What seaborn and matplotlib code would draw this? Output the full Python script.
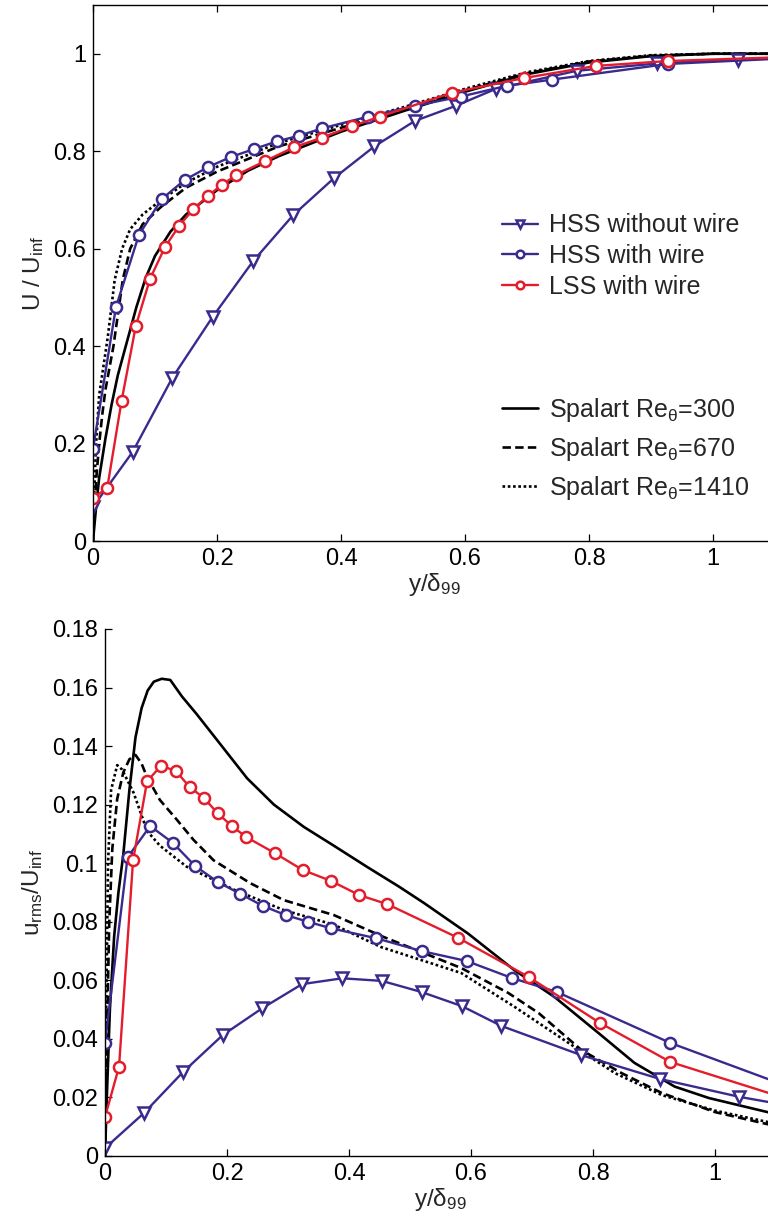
import numpy as np
import pandas as pd
import matplotlib
matplotlib.use("Agg")
import matplotlib.pyplot as plt
from matplotlib.ticker import FuncFormatter, MultipleLocator
import seaborn as sns

# ---------------- data ----------------
# HSS without wire (triangles)
x_hss_nw = [0, 0.064, 0.128, 0.193, 0.258, 0.323, 0.389, 0.454, 0.519, 0.585, 0.650, 0.780, 0.910, 1.040, 1.170]
U_hss_nw = [0.07, 0.183, 0.335, 0.46, 0.574, 0.669, 0.745, 0.81, 0.862, 0.893, 0.928, 0.965, 0.98, 0.988, 0.995]
rms_hss_nw = [0.0027, 0.0147, 0.0287, 0.0413, 0.0505, 0.0587, 0.0607, 0.0598, 0.056, 0.0512, 0.0444, 0.0345, 0.0263, 0.0202, 0.0154]

# HSS with wire (purple circles)
x_hss_w = [0, 0.037, 0.074, 0.111, 0.148, 0.185, 0.222, 0.259, 0.296, 0.333, 0.370, 0.444, 0.519, 0.593, 0.667, 0.741, 0.927, 1.11]
U_hss_w = [0.189, 0.48, 0.628, 0.702, 0.741, 0.767, 0.788, 0.804, 0.82, 0.832, 0.847, 0.871, 0.893, 0.912, 0.934, 0.947, 0.979, 0.99]
rms_hss_w = [0.0386, 0.102, 0.1127, 0.107, 0.099, 0.0936, 0.0895, 0.0854, 0.0823, 0.08, 0.0778, 0.0744, 0.070, 0.0666, 0.0608, 0.056, 0.0386, 0.0245]

# LSS with wire (red circles)
x_lss_w = [0, 0.023, 0.046, 0.069, 0.092, 0.116, 0.139, 0.162, 0.185, 0.208, 0.231, 0.278, 0.324, 0.370, 0.417, 0.463, 0.579, 0.695, 0.811, 0.927, 1.16]
U_lss_w = [0.088, 0.109, 0.287, 0.441, 0.538, 0.603, 0.647, 0.681, 0.708, 0.731, 0.751, 0.78, 0.808, 0.828, 0.851, 0.871, 0.92, 0.95, 0.975, 0.985, 0.995]
rms_lss_w = [0.0133, 0.0305, 0.101, 0.128, 0.1333, 0.1315, 0.126, 0.1223, 0.117, 0.1127, 0.109, 0.1035, 0.0977, 0.094, 0.0891, 0.086, 0.0745, 0.0611, 0.0455, 0.0321, 0.0168]

# Spalart DNS mean velocity
sU300_x = [0, 0.005, 0.01, 0.02, 0.03, 0.04, 0.055, 0.07, 0.085, 0.1, 0.125, 0.15, 0.2, 0.25, 0.3, 0.35, 0.4, 0.5, 0.6, 0.7, 0.8, 0.9, 1.0, 1.1]
sU300_y = [0, 0.07, 0.13, 0.21, 0.28, 0.34, 0.41, 0.48, 0.54, 0.585, 0.635, 0.67, 0.72, 0.76, 0.79, 0.815, 0.84, 0.882, 0.922, 0.958, 0.982, 0.995, 1.0, 1.0]
sU670_x = [0, 0.003, 0.006, 0.01, 0.015, 0.02, 0.033, 0.048, 0.06, 0.08, 0.11, 0.15, 0.2, 0.3, 0.4, 0.5, 0.6, 0.7, 0.8, 0.9, 1.0, 1.1]
sU670_y = [0, 0.08, 0.14, 0.2, 0.26, 0.31, 0.4, 0.536, 0.6, 0.65, 0.686, 0.725, 0.758, 0.81, 0.848, 0.885, 0.925, 0.96, 0.984, 0.996, 1.0, 1.0]
sU1410_x = [0, 0.002, 0.005, 0.01, 0.017, 0.024, 0.035, 0.047, 0.06, 0.08, 0.11, 0.15, 0.2, 0.3, 0.4, 0.5, 0.6, 0.7, 0.8, 0.9, 1.0, 1.1]
sU1410_y = [0, 0.1, 0.2, 0.3, 0.36, 0.42, 0.536, 0.6, 0.64, 0.67, 0.7, 0.735, 0.768, 0.817, 0.854, 0.89, 0.928, 0.962, 0.985, 0.997, 1.0, 1.0]

# Spalart DNS rms
sR300_x = [0, 0.003, 0.008, 0.015, 0.022, 0.03, 0.04, 0.05, 0.06, 0.07, 0.08, 0.093, 0.107, 0.126, 0.15, 0.184, 0.233, 0.277, 0.326, 0.375, 0.43, 0.482, 0.523, 0.595, 0.671, 0.737, 0.809, 0.868, 0.934, 0.99, 1.1]
sR300_y = [0, 0.02, 0.05, 0.075, 0.09, 0.103, 0.125, 0.143, 0.153, 0.159, 0.162, 0.163, 0.1626, 0.157, 0.151, 0.142, 0.129, 0.12, 0.1124, 0.106, 0.0987, 0.092, 0.0864, 0.076, 0.0635, 0.0543, 0.042, 0.0318, 0.0237, 0.0198, 0.0143]
sR670_x = [0, 0.003, 0.007, 0.012, 0.02, 0.03, 0.04, 0.05, 0.06, 0.069, 0.09, 0.118, 0.145, 0.178, 0.238, 0.293, 0.375, 0.457, 0.584, 0.661, 0.711, 0.781, 0.847, 0.913, 1.0, 1.1]
sR670_y = [0, 0.04, 0.08, 0.105, 0.122, 0.131, 0.1355, 0.137, 0.134, 0.1294, 0.1216, 0.1148, 0.108, 0.101, 0.0932, 0.0874, 0.0823, 0.0748, 0.0642, 0.0557, 0.0488, 0.0362, 0.0283, 0.0215, 0.015, 0.0102]
sR1410_x = [0, 0.002, 0.005, 0.01, 0.02, 0.028, 0.047, 0.069, 0.09, 0.134, 0.211, 0.293, 0.375, 0.452, 0.584, 0.671, 0.76, 0.836, 0.913, 1.0, 1.1]
sR1410_y = [0, 0.05, 0.1, 0.125, 0.1335, 0.132, 0.124, 0.111, 0.106, 0.0988, 0.091, 0.084, 0.079, 0.0714, 0.0625, 0.051, 0.0386, 0.0283, 0.0208, 0.0155, 0.011]

labels_exp = ["HSS without wire", "HSS with wire", "LSS with wire"]
labels_dns = [r"Spalart Re$_{\mathregular{θ}}$=300", r"Spalart Re$_{\mathregular{θ}}$=670", r"Spalart Re$_{\mathregular{θ}}$=1410"]

# ---------------- style ----------------
sns.set_style("ticks")
plt.rcParams["font.family"] = ["Liberation Sans", "DejaVu Sans"]
plt.rcParams["mathtext.fontset"] = "custom"
plt.rcParams["mathtext.rm"] = "Liberation Sans"
plt.rcParams["mathtext.it"] = "Liberation Sans"
plt.rcParams["xtick.direction"] = "in"
plt.rcParams["ytick.direction"] = "in"
plt.rcParams["axes.edgecolor"] = "black"
plt.rcParams["axes.linewidth"] = 1.0

PURPLE = "#3b2a8e"
RED = "#e31d2c"
TICK_FS = 17
LAB_FS = 17.5
LEG_FS = 18

fig = plt.figure(figsize=(7.68, 12.22), dpi=100)
ax1 = fig.add_axes([93 / 768, 681 / 1222, 682 / 768, 536 / 1222])
ax2 = fig.add_axes([105 / 768, 66 / 1222, 671 / 768, 527 / 1222])

fmt = FuncFormatter(lambda v, p: ("%g" % round(v, 6)))


def line(ax, x, y, **kw):
    df = pd.DataFrame({"x": x, "y": y})
    sns.lineplot(data=df, x="x", y="y", ax=ax, estimator=None, sort=False, legend=False, **kw)


dns_styles = [dict(linestyle="-"), dict(linestyle=(0, (3.2, 1.6))), dict(linestyle=(0, (1, 1.0)))]
exp_styles = [
    dict(color=PURPLE, marker="v", markersize=8.5),
    dict(color=PURPLE, marker="o", markersize=8),
    dict(color=RED, marker="o", markersize=8),
]

# ---- top panel: mean velocity ----
for (x, y), st, lab in zip([(sU300_x, sU300_y), (sU670_x, sU670_y), (sU1410_x, sU1410_y)], dns_styles, labels_dns):
    line(ax1, x, y, color="black", linewidth=1.9, label=lab, **st)
for (x, y), st, lab in zip([(x_hss_nw, U_hss_nw), (x_hss_w, U_hss_w), (x_lss_w, U_lss_w)], exp_styles, labels_exp):
    line(ax1, x, y, linewidth=1.7, markerfacecolor="white", markeredgecolor=st["color"],
         markeredgewidth=1.8, label=lab, **st)

# ---- bottom panel: rms ----
for (x, y), st in zip([(sR300_x, sR300_y), (sR670_x, sR670_y), (sR1410_x, sR1410_y)], dns_styles):
    line(ax2, x, y, color="black", linewidth=1.9, **st)
for (x, y), st in zip([(x_hss_nw, rms_hss_nw), (x_hss_w, rms_hss_w), (x_lss_w, rms_lss_w)], exp_styles):
    line(ax2, x, y, linewidth=1.7, markerfacecolor="white", markeredgecolor=st["color"],
         markeredgewidth=1.8, **st)

for ax in (ax1, ax2):
    ax.set_xlim(0, 1.1)
    ax.xaxis.set_major_locator(MultipleLocator(0.2))
    ax.xaxis.set_major_formatter(fmt)
    ax.yaxis.set_major_formatter(fmt)
    ax.tick_params(labelsize=TICK_FS, length=5, width=0.9, colors="black", pad=5)
    ax.set_xlabel(r"y/δ$_{\mathregular{99}}$", fontsize=LAB_FS, labelpad=1)

ax1.set_ylim(0, 1.1)
ax1.yaxis.set_major_locator(MultipleLocator(0.2))
ax1.tick_params(top=True, right=True)
ax1.set_ylabel(r"U / U$_{\mathregular{inf}}$", fontsize=LAB_FS, labelpad=5)

ax2.set_ylim(0, 0.18)
ax2.yaxis.set_major_locator(MultipleLocator(0.02))
sns.despine(ax=ax2, top=True, right=True)
ax2.set_ylabel(r"u$_{\mathregular{rms}}$/U$_{\mathregular{inf}}$", fontsize=LAB_FS, labelpad=5)

# ---- legends ----
h, l = ax1.get_legend_handles_labels()
hd = dict(zip(l, h))
leg1 = ax1.legend([hd[k] for k in labels_exp], labels_exp, loc="upper left",
                  bbox_to_anchor=(0.585, 0.63), frameon=False, fontsize=LEG_FS,
                  handlelength=1.45, handletextpad=0.45, labelspacing=0.27, borderaxespad=0)
for lh in leg1.legend_handles:
    lh.set_markersize(5.5)
ax1.add_artist(leg1)
leg2 = ax1.legend([hd[k] for k in labels_dns], labels_dns, loc="upper left",
                  bbox_to_anchor=(0.585, 0.29), frameon=False, fontsize=LEG_FS,
                  handlelength=1.45, handletextpad=0.45, labelspacing=0.45, borderaxespad=0)

fig.savefig("out.png", dpi=100)
